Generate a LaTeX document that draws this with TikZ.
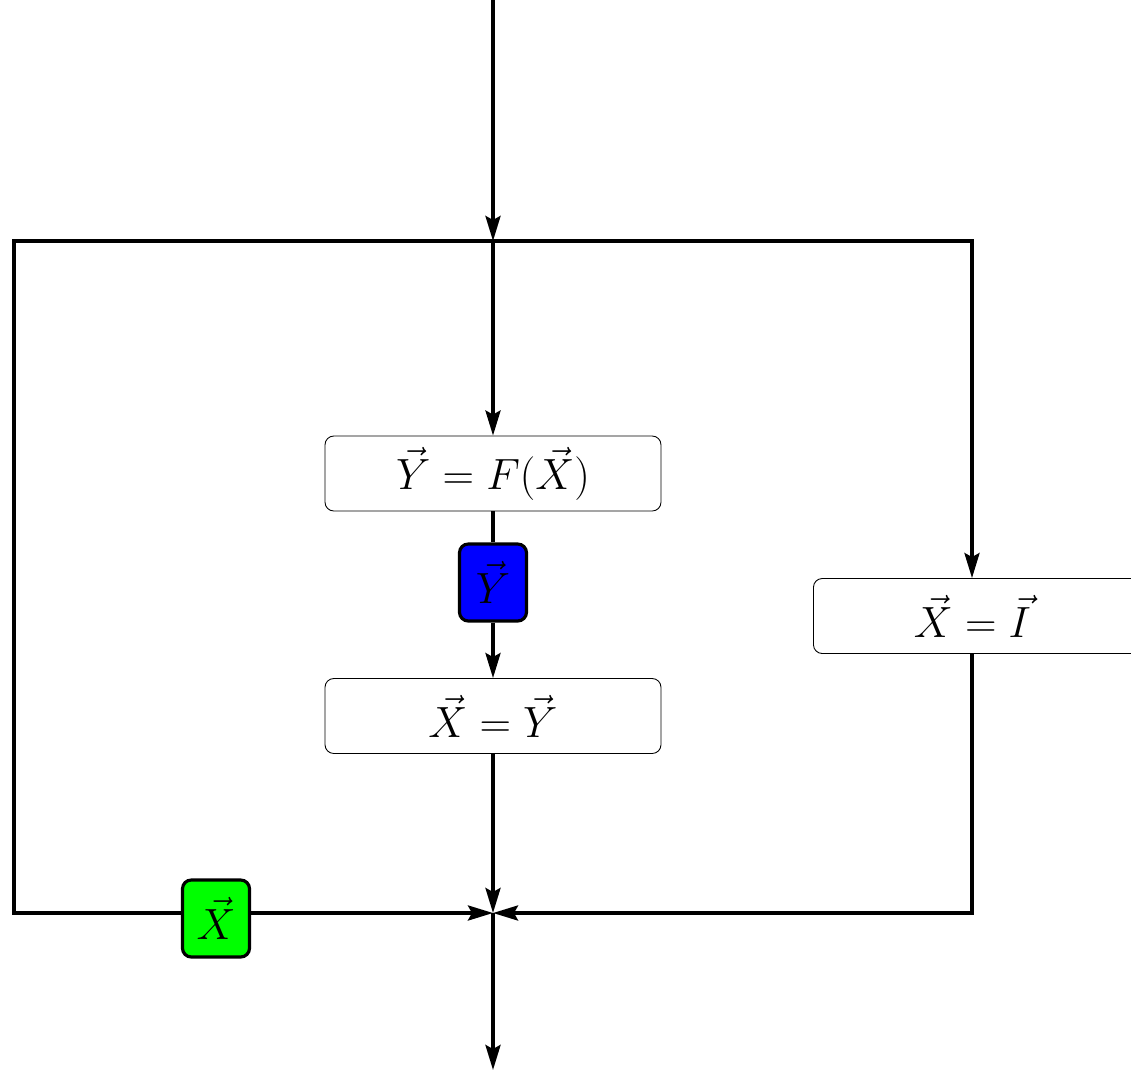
\documentclass[tikz,border=0pt]{standalone}
\usepackage{tikz}
\usetikzlibrary{positioning,arrows.meta,calc}
\tikzset{
  eqbox/.style={
    draw=black, rounded corners=5pt, line width=0.5pt,
    fill=white, minimum width=6.72cm, minimum height=1.5cm,
    inner sep=0pt, font=\fontsize{29}{35}\selectfont
  },
  vecbox/.style={
    draw=black, rounded corners=5pt, line width=1.8pt,
    fill=#1, minimum width=1.34cm, minimum height=1.54cm,
    inner sep=0pt, font=\fontsize{29}{35}\selectfont
  },
  flow/.style={-{Stealth[length=0.5cm,width=0.3cm,inset=0.08cm]}, line width=2pt},
  link/.style={line width=2pt}
}
\begin{document}
\begin{tikzpicture}
\useasboundingbox (0,0) rectangle (22.62,-21.44);

\coordinate (top) at (9.86,0);
\coordinate (split) at (9.86,-4.82);
\coordinate (join) at (9.86,-18.26);
\coordinate (bottom) at (9.86,-21.40);
\coordinate (tl) at (0.28,-4.82);
\coordinate (bl) at (0.28,-18.26);
\coordinate (tr) at (19.44,-4.82);
\coordinate (br) at (19.44,-18.26);

\node[eqbox] (feval) at (9.86,-9.47) {$\vec{Y}=F(\vec{X})$};
\node[vecbox=blue] (yvec) at (9.86,-11.65) {$\vec{Y}$};
\node[eqbox] (update) at (9.86,-14.32) {$\vec{X}=\vec{Y}$};
\node[eqbox, anchor=west] (init) at (16.26,-12.32) {\hspace*{-0.36cm}$\vec{X}=\vec{I}$};
\node[vecbox=green] (xvec) at (4.32,-18.37) {$\vec{X}$};

\draw[flow] (top) -- (split);
\draw[flow] (split) -- (feval);
\draw[link] (feval) -- (yvec);
\draw[flow] (yvec) -- (update);
\draw[flow] (update) -- (join);
\draw[link] (split) -- (tl) -- (bl) -- (bl -| xvec.west);
\draw[flow] (xvec.east |- join) -- (join);
\draw[flow] (split) -- (tr) -- (tr |- init.north);
\draw[flow] (tr |- init.south) -- (br) -- (join);
\draw[flow] (join) -- (bottom);

\end{tikzpicture}
\end{document}
